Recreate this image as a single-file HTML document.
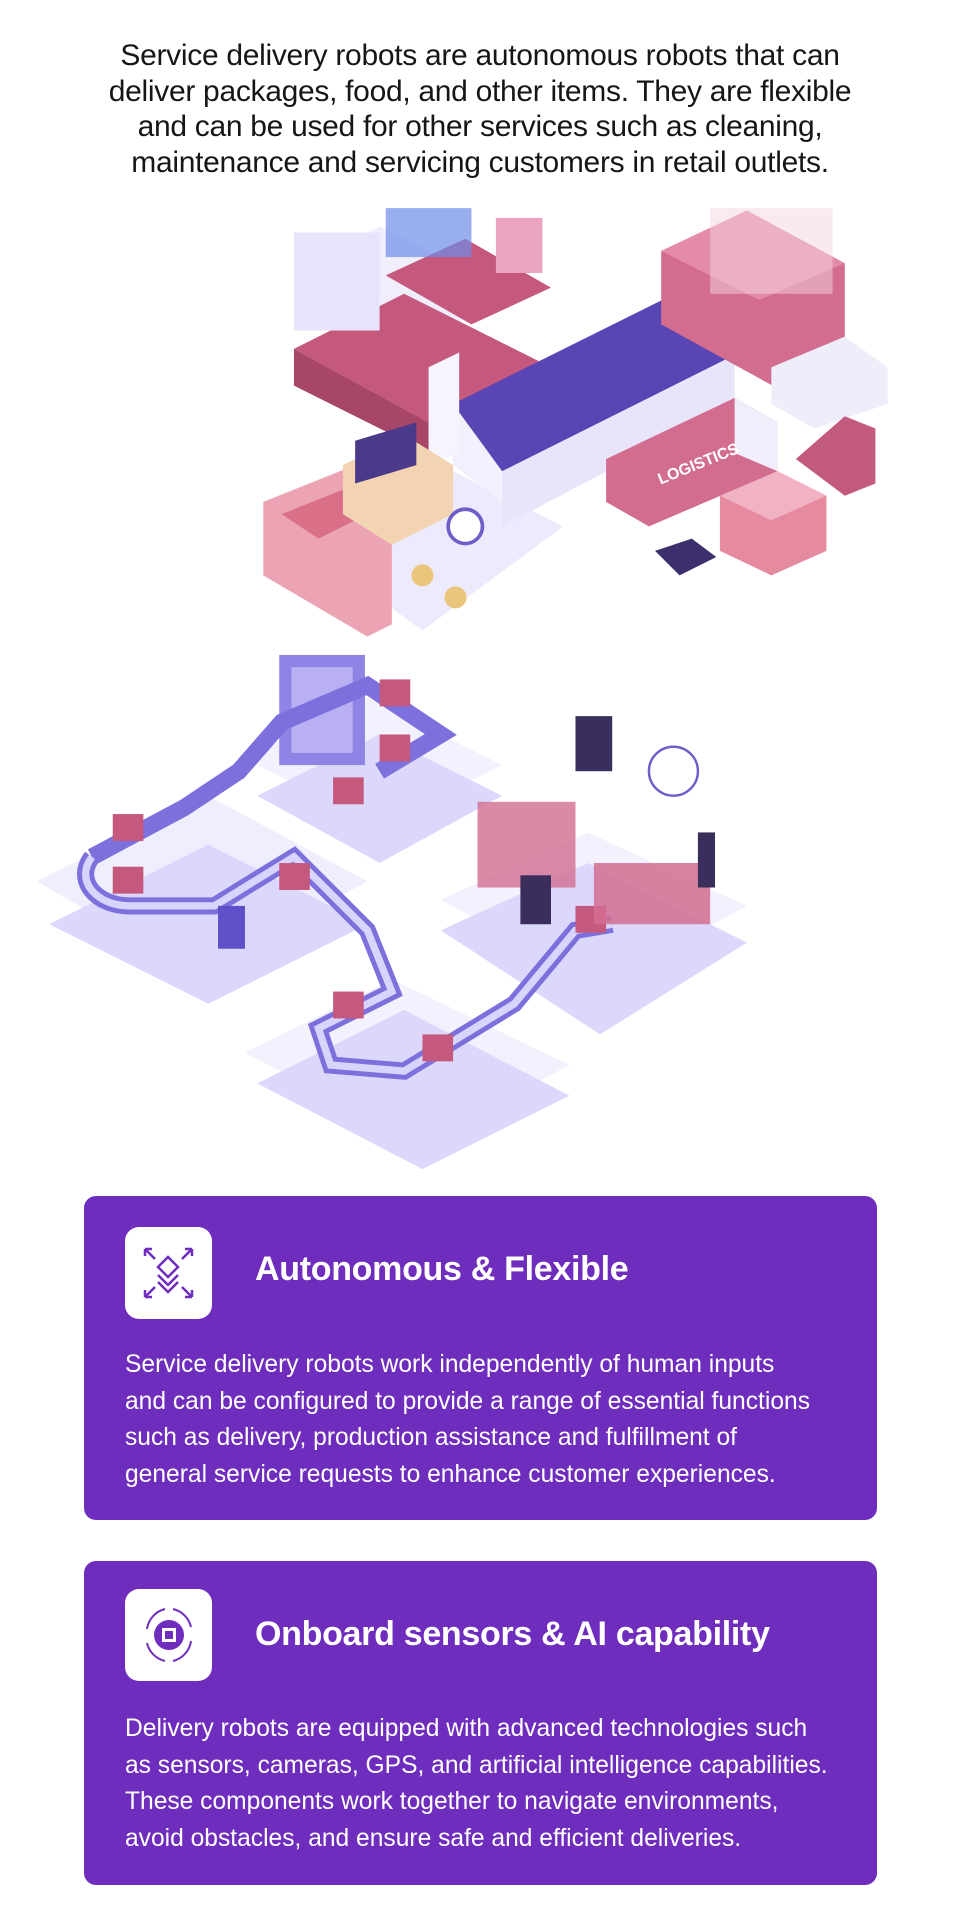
<!DOCTYPE html>
<html><head><meta charset="utf-8">
<style>
html,body{margin:0;padding:0;background:#fff;}
body{width:960px;height:1919px;position:relative;overflow:hidden;font-family:"Liberation Sans",sans-serif;}
.intro{position:absolute;left:0;top:38px;width:960px;text-align:center;font-size:30px;line-height:35.7px;color:#161616;letter-spacing:-0.3px;}
.card{position:absolute;left:84px;width:793px;background:#6f2dbd;border-radius:12px;color:#fff;}
.icon{position:absolute;left:41px;width:87px;height:92px;background:#fff;border-radius:14px;}
.h{position:absolute;left:171px;font-family:"Liberation Sans",sans-serif;font-weight:bold;font-size:34px;letter-spacing:-0.3px;}
.p{position:absolute;left:41px;font-size:24.6px;line-height:36.5px;white-space:nowrap;}
svg.ill{position:absolute;left:0;top:0;}
</style></head><body>
<svg class="ill" width="960" height="1919" viewBox="0 0 784 1567.6">
<polygon points="215,420 330,365 460,430 345,515" fill="#eceafc"/>
<polygon points="240,220 310,185 420,240 350,275" fill="#f0eefc"/>
<polygon points="240,285 330,240 440,295 350,345" fill="#c5587d"/>
<polygon points="240,285 350,345 350,370 240,315" fill="#a8466a"/>
<polygon points="350,345 440,295 440,320 350,370" fill="#d47092"/>
<polygon points="315,225 380,195 450,235 385,265" fill="#c5587d"/>
<rect x="240" y="190" width="70" height="80" fill="#e6e4fb"/>
<rect x="315" y="170" width="70" height="40" fill="#6e8ce8" opacity=".7"/>
<rect x="405" y="178" width="38" height="45" fill="#eaa3c0"/>
<polygon points="370,330 555,238 600,290 410,385" fill="#5a45b5"/>
<polygon points="370,330 410,385 410,410 370,380" fill="#f2f0fd"/>
<polygon points="410,385 600,290 600,330 410,430" fill="#e8e5fb"/>
<polygon points="350,300 375,288 375,370 350,380" fill="#f6f5fe"/>
<polygon points="540,205 610,172 690,215 690,300 640,320 540,265" fill="#d26d90"/>
<polygon points="540,205 610,172 690,215 620,245" fill="#e48aab"/>
<rect x="580" y="170" width="100" height="70" fill="#f3d6e2" opacity=".5"/>
<polygon points="630,300 690,275 725,300 725,330 665,350 630,330" fill="#eeeefb"/>
<polygon points="495,375 600,325 635,345 635,385 530,430 495,410" fill="#d26d90"/>
<polygon points="600,325 635,345 635,385 600,370" fill="#f0eefb"/>
<text x="535" y="387" font-family="Liberation Sans" font-weight="bold" font-size="13" fill="#fff" transform="rotate(-22 560 380)">LOGISTICS</text>
<polygon points="588,405 635,385 675,405 675,450 630,470 588,450" fill="#e68aa0"/>
<polygon points="588,405 635,385 675,405 630,425" fill="#f1b3c3"/>
<polygon points="215,410 290,380 320,395 320,510 300,520 215,470" fill="#eca3b3"/>
<polygon points="230,420 280,400 310,415 260,440" fill="#d97088"/>
<polygon points="280,380 330,355 370,380 370,420 320,445 280,420" fill="#f2d4b2"/>
<polygon points="290,360 340,345 340,380 290,395" fill="#4b3a8a"/>
<circle cx="380" cy="430" r="14" fill="#fff" stroke="#6d5fc9" stroke-width="3"/>
<circle cx="345" cy="470" r="9" fill="#eac57c"/>
<circle cx="372" cy="488" r="9" fill="#eac57c"/>
<polygon points="535,450 565,440 585,455 555,470" fill="#3d2f6e"/>
<polygon points="650,375 690,340 715,350 715,395 690,405" fill="#c25a7d"/>
<polygon points="30,720 170,650 300,720 160,795" fill="#eeeefc"/>
<polygon points="40,755 170,690 300,755 170,820" fill="#dcd8fb"/>
<polygon points="200,620 300,570 410,625 310,675" fill="#f2f1fd"/>
<polygon points="210,650 310,600 410,650 310,705" fill="#dcd8fb"/>
<polygon points="200,860 320,800 465,870 345,935" fill="#f2f1fd"/>
<polygon points="210,885 330,825 465,895 345,955" fill="#dcd8fb"/>
<polygon points="360,735 480,680 610,740 490,805" fill="#f2f1fd"/>
<polygon points="360,760 480,705 610,770 490,845" fill="#dcd8fb"/>
<rect x="228" y="535" width="70" height="90" fill="#8f84e6"/>
<rect x="238" y="545" width="50" height="70" fill="#b8b0f2"/>
<path d="M75,700 L150,660 L195,630 L230,590 L300,560 L360,600 L310,630" stroke="#7c70dc" stroke-width="14" fill="none"/>
<path d="M75,700 C60,720 80,740 105,740 L175,740 L240,700 L300,760 L320,810 L260,840 L270,870 L330,875 L420,820 L470,760 L500,755" stroke="#7c70dc" stroke-width="14" fill="none"/>
<path d="M75,700 C60,720 80,740 105,740 L175,740 L240,700 L300,760 L320,810 L260,840 L270,870 L330,875 L420,820 L470,760 L500,755" stroke="#d8d4fb" stroke-width="6" fill="none"/>
<rect x="92" y="665" width="25" height="22" fill="#c5587d"/>
<rect x="92" y="708" width="25" height="22" fill="#c5587d"/>
<rect x="228" y="705" width="25" height="22" fill="#c5587d"/>
<rect x="272" y="635" width="25" height="22" fill="#c5587d"/>
<rect x="310" y="555" width="25" height="22" fill="#c5587d"/>
<rect x="310" y="600" width="25" height="22" fill="#c5587d"/>
<rect x="272" y="810" width="25" height="22" fill="#c5587d"/>
<rect x="345" y="845" width="25" height="22" fill="#c5587d"/>
<rect x="470" y="740" width="25" height="22" fill="#c5587d"/>
<rect x="390" y="655" width="80" height="70" fill="#d26d90" opacity=".8"/>
<rect x="485" y="705" width="95" height="50" fill="#d26d90" opacity=".85"/>
<rect x="470" y="585" width="30" height="45" fill="#3a2f5c"/>
<rect x="425" y="715" width="25" height="40" fill="#3a2f5c"/>
<rect x="178" y="740" width="22" height="35" fill="#5d50c8"/>
<circle cx="550" cy="630" r="20" fill="none" stroke="#6d5fc9" stroke-width="2"/>
<rect x="570" y="680" width="14" height="45" fill="#3a2f5c"/>
</svg>
<div class="intro">Service delivery robots are autonomous robots that can<br>deliver packages, food, and other items. They are flexible<br>and can be used for other services such as cleaning,<br>maintenance and servicing customers in retail outlets.</div>

<div class="card" style="top:1196px;height:324px;">
 <div class="icon" style="top:31px;">
  <svg width="87" height="92" viewBox="0 0 87 92"><g stroke="#6f2dbd" stroke-width="2.5" fill="none">
  <path d="M20,22 l10,10 M20,22 v7 M20,22 h7 M67,22 l-10,10 M67,22 v7 M67,22 h-7 M20,70 l10,-10 M20,70 v-7 M20,70 h7 M67,70 l-10,-10 M67,70 v-7 M67,70 h-7"/>
  <path d="M43,30 l10,10 l-10,10 l-10,-10z M33,48 l10,10 l10,-10 M33,55 l10,10 l10,-10"/></g></svg>
 </div>
 <div class="h" style="top:54px;">Autonomous &amp; Flexible</div>
 <div class="p" style="top:151px;">Service delivery robots work independently of human inputs<br>and can be configured to provide a range of essential functions<br>such as delivery, production assistance and fulfillment of<br>general service requests to enhance customer experiences.</div>
</div>

<div class="card" style="top:1561px;height:324px;">
 <div class="icon" style="top:28px;">
  <svg width="87" height="92" viewBox="0 0 87 92"><g stroke="#6f2dbd" stroke-width="2" fill="none">
  <path d="M22,40 A24,24 0 0 1 40,20 M48,20 A24,24 0 0 1 66,38 M66,52 A24,24 0 0 1 48,72 M40,72 A24,24 0 0 1 22,54"/></g>
  <circle cx="44" cy="46" r="15" fill="#6f2dbd"/><rect x="37" y="39" width="14" height="14" fill="#fff"/><rect x="40" y="42" width="8" height="8" fill="#6f2dbd"/></svg>
 </div>
 <div class="h" style="top:54px;">Onboard sensors &amp; AI capability</div>
 <div class="p" style="top:150px;">Delivery robots are equipped with advanced technologies such<br>as sensors, cameras, GPS, and artificial intelligence capabilities.<br>These components work together to navigate environments,<br>avoid obstacles, and ensure safe and efficient deliveries.</div>
</div>
</body></html>
